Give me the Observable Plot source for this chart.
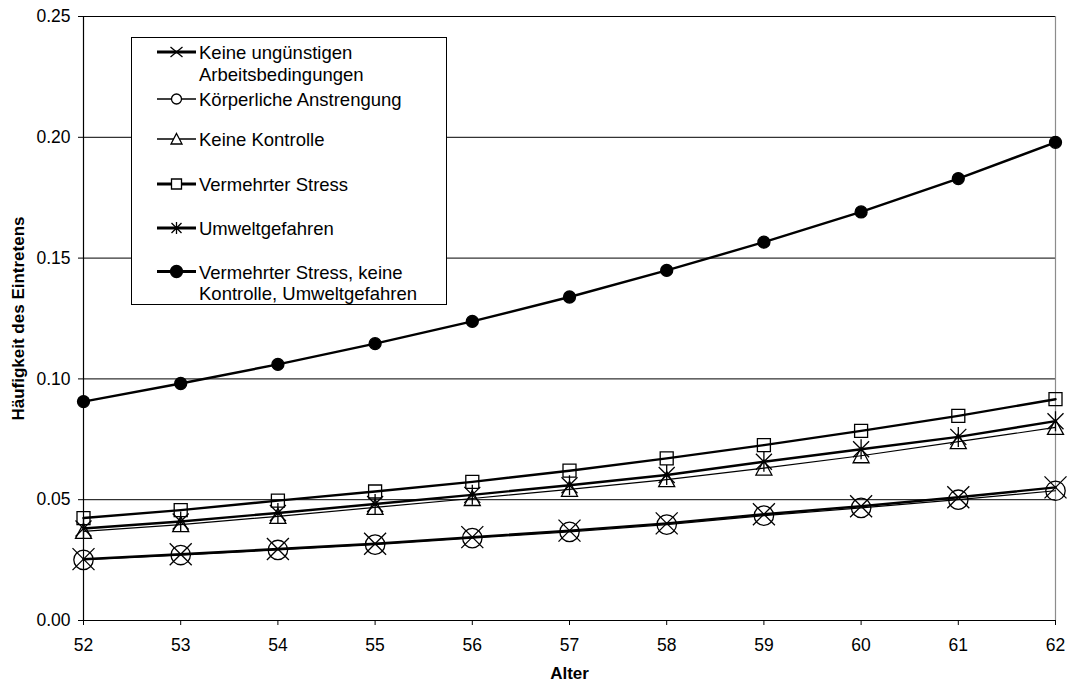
<!DOCTYPE html>
<html>
<head>
<meta charset="utf-8">
<script src="https://cdn.jsdelivr.net/npm/d3@7"></script>
<script src="https://cdn.jsdelivr.net/npm/@observablehq/plot@0.6"></script>
<style>
  html, body { margin: 0; padding: 0; background: #fff; overflow: hidden; }
  #chart { position: relative; width: 1068px; height: 682px; }
  #legend {
    position: absolute; left: 131px; top: 37px; width: 316px; height: 268px;
    box-sizing: border-box; border: 1px solid #000; background: #fff;
  }
  #legend svg { display: block; }
</style>
</head>
<body>
<div id="chart"><div id="legend"></div></div>
<script>
// Age on the x axis
const ages = [52, 53, 54, 55, 56, 57, 58, 59, 60, 61, 62];
const yTicks = [0, 0.05, 0.1, 0.15, 0.2, 0.25];

// Estimated probability of the event for each risk profile
const keineUnguenstigen = [0.0254, 0.0274, 0.0296, 0.0318, 0.0345, 0.0372, 0.0402, 0.0440, 0.0473, 0.0510, 0.0551];
const koerperlich       = [0.0251, 0.0271, 0.0292, 0.0314, 0.0341, 0.0367, 0.0397, 0.0434, 0.0466, 0.0500, 0.0537];
const keineKontrolle    = [0.0369, 0.0397, 0.0431, 0.0468, 0.0505, 0.0543, 0.0583, 0.0631, 0.0682, 0.0740, 0.0799];
const stress            = [0.0424, 0.0457, 0.0496, 0.0534, 0.0574, 0.0620, 0.0671, 0.0726, 0.0785, 0.0847, 0.0916];
const umwelt            = [0.0381, 0.0410, 0.0445, 0.0482, 0.0520, 0.0560, 0.0602, 0.0657, 0.0709, 0.0760, 0.0825];
const kombiniert        = [0.0906, 0.0981, 0.1060, 0.1146, 0.1238, 0.1339, 0.1449, 0.1566, 0.1691, 0.1829, 0.1979];

const seriesNames = [
  ["Keine ungünstigen", "Arbeitsbedingungen"],
  ["Körperliche Anstrengung"],
  ["Keine Kontrolle"],
  ["Vermehrter Stress"],
  ["Umweltgefahren"],
  ["Vermehrter Stress, keine", "Kontrolle, Umweltgefahren"]
];
const seriesValues = [keineUnguenstigen, koerperlich, keineKontrolle, stress, umwelt, kombiniert];

// Marker shapes (fixed dimensions, the size argument is ignored)
const times = (hx, hy) => ({ draw(c) { c.moveTo(-hx, -hy); c.lineTo(hx, hy); c.moveTo(-hx, hy); c.lineTo(hx, -hy); } });
const ring = (r) => ({ draw(c) { c.moveTo(r, 0); c.arc(0, 0, r, 0, 2 * Math.PI); c.closePath(); } });
const tri = (hw, top, bottom) => ({ draw(c) { c.moveTo(0, -top); c.lineTo(hw, bottom); c.lineTo(-hw, bottom); c.closePath(); } });
const square = (h) => ({ draw(c) { c.rect(-h, -h, 2 * h, 2 * h); } });
const star = (hv, hd) => ({ draw(c) { c.moveTo(0, -hv); c.lineTo(0, hv); c.moveTo(-hd, -hd); c.lineTo(hd, hd); c.moveTo(-hd, hd); c.lineTo(hd, -hd); } });

const styles = [
  { lw: 2.4, lwLegend: 3,   sym: times(11, 11), symLegend: times(6, 5), fill: "none" },
  { lw: 1.2, lwLegend: 1.4, sym: ring(9.7),     symLegend: ring(5),     fill: "none" },
  { lw: 1.2, lwLegend: 1.4, sym: tri(8, 8, 7),  symLegend: tri(5.5, 5.5, 5), fill: "none" },
  { lw: 2.4, lwLegend: 3,   sym: square(6.5),   symLegend: square(5),   fill: "none" },
  { lw: 2.4, lwLegend: 3,   sym: star(10, 8),   symLegend: star(6, 5),  fill: "none" },
  { lw: 2.4, lwLegend: 3,   sym: ring(6),       symLegend: ring(6),     fill: "black" }
];

const rows = seriesValues.map(vals => ages.map((a, i) => ({ age: a, p: vals[i] })));

const marks = [
  Plot.gridY(yTicks.slice(1), { stroke: "#000", strokeOpacity: 1, strokeWidth: 1 }),
  Plot.ruleX([62], { stroke: "#8c8c8c", strokeWidth: 1.2 }),
  Plot.ruleX([52], { stroke: "#000", strokeWidth: 1.2 }),
  Plot.ruleY([0], { stroke: "#000", strokeWidth: 1.2 }),
  Plot.axisX({ ticks: ages, tickFormat: d => String(d), tickSize: 5, tickPadding: 13, label: null }),
  Plot.axisY({ ticks: yTicks, tickFormat: d3.format(".2f"), tickSize: 5, tickPadding: 8, label: null }),
  Plot.text(["Alter"], { frameAnchor: "bottom", dy: 53, lineAnchor: "middle", fontWeight: "bold", fontSize: 17 }),
  Plot.text(["Häufigkeit des Eintretens"], { frameAnchor: "left", dx: -64.5, rotate: -90, lineAnchor: "middle", textAnchor: "middle", fontWeight: "bold", fontSize: 17 })
];

rows.forEach((r, k) => {
  const s = styles[k];
  marks.push(Plot.line(r, { x: "age", y: "p", stroke: "#000", strokeWidth: s.lw }));
  marks.push(Plot.dot(r, { x: "age", y: "p", symbol: s.sym, r: 5, stroke: "#000", strokeWidth: 1.3, fill: s.fill }));
});

const plot = Plot.plot({
  width: 1068,
  height: 682,
  marginLeft: 83,
  marginRight: 13,
  marginTop: 16,
  marginBottom: 62,
  style: { fontFamily: "'Liberation Sans', Arial, sans-serif", fontSize: "17.5px", color: "#000", background: "#fff" },
  x: { domain: [52, 62] },
  y: { domain: [0, 0.25] },
  marks
});
document.getElementById("chart").prepend(plot);

// Legend box
const rowY = [14, 61, 101, 146, 190, 233.5];
const lg = d3.select("#legend").append("svg").attr("width", 314).attr("height", 266)
  .style("font-family", "'Liberation Sans', Arial, sans-serif").style("font-size", "18.5px");
seriesNames.forEach((lines, k) => {
  const s = styles[k];
  const g = lg.append("g").attr("transform", `translate(0,${rowY[k]})`);
  g.append("line").attr("x1", 25).attr("x2", 64).attr("y1", 0).attr("y2", 0)
    .attr("stroke", "#000").attr("stroke-width", s.lwLegend);
  g.append("path").attr("d", d3.symbol(s.symLegend)()).attr("transform", "translate(44.5,0)")
    .attr("stroke", "#000").attr("stroke-width", 1.3).attr("fill", s.fill === "none" ? "#fff" : "#000");
  lines.forEach((t, j) => {
    g.append("text").attr("x", 67).attr("y", 1 + j * 21.5).attr("dy", "0.35em").text(t);
  });
});
</script>
</body>
</html>
